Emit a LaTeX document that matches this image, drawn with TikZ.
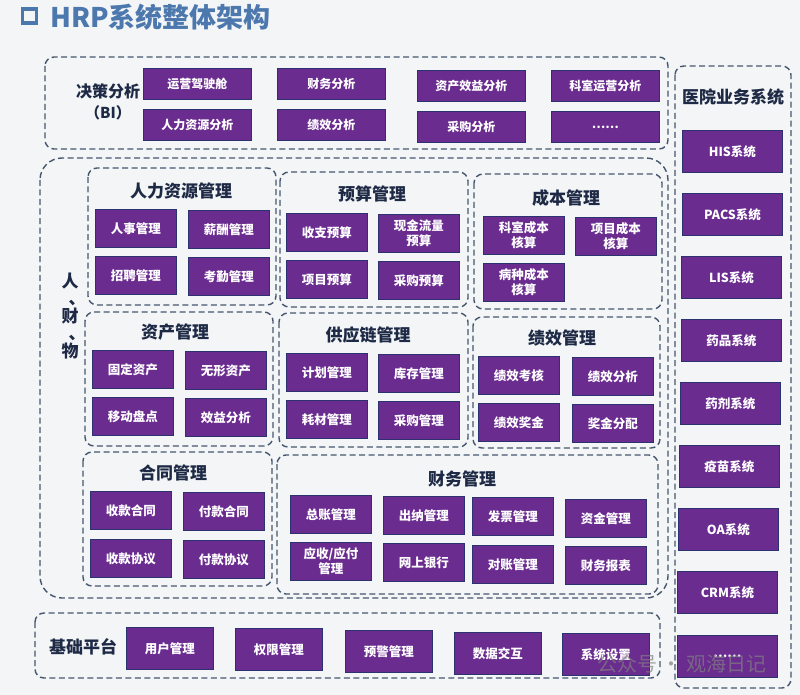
\documentclass[tikz,border=0pt]{standalone}
\usepackage{fontspec}
\setmainfont{Noto Sans CJK SC}
\definecolor{bgc}{HTML}{F3F5F7}
\definecolor{purp}{HTML}{6B2C90}
\definecolor{bxborder}{HTML}{2C3270}
\definecolor{dashc}{HTML}{46566E}
\definecolor{lblc}{HTML}{1E2A45}
\definecolor{titleblue}{HTML}{4C78AE}
\begin{document}
\begin{tikzpicture}[x=1pt,y=-1pt,
  grp/.style={draw=dashc, line width=1.4pt, dash pattern=on 6pt off 3.5pt, rounded corners=9pt},
  bx/.style={draw=bxborder, line width=0.9pt, fill=purp, text=white, font=\fontsize{12.5}{15}\selectfont\bfseries, align=center, anchor=north west, inner sep=0pt},
  mb/.style={bx, minimum width=81pt, minimum height=38pt},
  bib/.style={bx, minimum width=108pt, minimum height=31pt, font=\fontsize{12}{14}\selectfont\bfseries},
  rb/.style={bx, minimum width=100pt, minimum height=42pt},
  fb/.style={bx, minimum width=87pt, minimum height=42pt},
  gt/.style={text=lblc, font=\fontsize{17}{19}\selectfont\bfseries},
]
\useasboundingbox (0,0) rectangle (800,695);
\fill[bgc] (0,0) rectangle (800,695);

% title
\node[draw=titleblue, line width=3.5pt, minimum size=14pt, inner sep=0pt] (sq) at (29.5,16) {};
\node[anchor=west, text=titleblue, font=\fontsize{27}{30}\selectfont\bfseries, inner sep=0pt] (title) at (50,17) {HRP系统整体架构};

% BI
\draw[grp] (45,57) rectangle (668,149);
\node[gt, font=\fontsize{16}{18}\selectfont\bfseries] (bi1) at (108,91) {决策分析};
\node[gt, font=\fontsize{15}{18}\selectfont\bfseries] (bi2) at (108,113) {（BI）};
\node[bib] (a1) at (143,68) {运营驾驶舱};
\node[bib] (a2) at (277,68) {财务分析};
\node[bib] (a3) at (417,70) {资产效益分析};
\node[bib] (a4) at (551,70) {科室运营分析};
\node[bib] (a5) at (143,109) {人力资源分析};
\node[bib] (a6) at (277,109) {绩效分析};
\node[bib] (a7) at (417,111) {采购分析};
\node[bib] (a8) at (551,111) {……};

% big middle box
\draw[grp, rounded corners=22pt] (40,158) rectangle (668,598);
\node[gt, align=center, font=\fontsize{17}{17.5}\selectfont\bfseries, inner sep=0pt] (rcw) at (70,316) {人\\\hspace*{14pt}、\\财\\\hspace*{14pt}、\\物};

% HR
\draw[grp] (88,168) rectangle (276,305);
\node[gt] (hrt) at (181,191) {人力资源管理};
\node[mb] (h1) at (95,209) {人事管理};
\node[mb] (h2) at (188,210) {薪酬管理};
\node[mb] (h3) at (95,256) {招聘管理};
\node[mb] (h4) at (188,257) {考勤管理};

% budget
\draw[grp] (280,172) rectangle (468,307);
\node[gt] (bgt) at (372,194) {预算管理};
\node[mb] (g1) at (286,213) {收支预算};
\node[mb] (g2) at (378,214) {现金流量\\预算};
\node[mb] (g3) at (286,260) {项目预算};
\node[mb] (g4) at (378,261) {采购预算};

% cost
\draw[grp] (474,174) rectangle (662,309);
\node[gt] (cst) at (566,198) {成本管理};
\node[mb] (c1) at (483,216) {科室成本\\核算};
\node[mb] (c2) at (575,217) {项目成本\\核算};
\node[mb] (c3) at (483,263) {病种成本\\核算};

% assets
\draw[grp] (85,312) rectangle (273,446);
\node[gt] (ast) at (175,332) {资产管理};
\node[mb] (s1) at (92,350) {固定资产};
\node[mb] (s2) at (185,351) {无形资产};
\node[mb] (s3) at (92,397) {移动盘点};
\node[mb] (s4) at (185,398) {效益分析};

% supply chain
\draw[grp] (279,313) rectangle (468,447);
\node[gt] (spt) at (368,335) {供应链管理};
\node[mb] (p1) at (286,353) {计划管理};
\node[mb] (p2) at (378,354) {库存管理};
\node[mb] (p3) at (286,400) {耗材管理};
\node[mb] (p4) at (378,401) {采购管理};

% performance
\draw[grp] (473,317) rectangle (660,448);
\node[gt] (pft) at (562,338) {绩效管理};
\node[mb] (q1) at (478,356) {绩效考核};
\node[mb] (q2) at (572,357) {绩效分析};
\node[mb] (q3) at (478,403) {绩效奖金};
\node[mb] (q4) at (572,404) {奖金分配};

% contract
\draw[grp] (83,452) rectangle (272,586);
\node[gt] (ctt) at (173,473) {合同管理};
\node[mb] (k1) at (90,491) {收款合同};
\node[mb] (k2) at (183,492) {付款合同};
\node[mb] (k3) at (90,539) {收款协议};
\node[mb] (k4) at (183,540) {付款协议};

% finance
\draw[grp] (277,455) rectangle (658,594);
\node[gt] (fnt) at (462,479) {财务管理};
\node[mb] (f1) at (290,495) {总账管理};
\node[mb] (f2) at (383,496) {出纳管理};
\node[mb] (f3) at (472,497) {发票管理};
\node[mb] (f4) at (565,499) {资金管理};
\node[mb] (f5) at (290,542) {应收/应付\\管理};
\node[mb] (f6) at (383,543) {网上银行};
\node[mb] (f7) at (472,545) {对账管理};
\node[mb] (f8) at (565,546) {财务报表};

% hospital systems
\draw[grp] (675,66) rectangle (791,688);
\node[gt] (hst) at (733,97) {医院业务系统};
\node[rb] (r1) at (682,130) {HIS系统};
\node[rb] (r2) at (682,193) {PACS系统};
\node[rb] (r3) at (681,256) {LIS系统};
\node[rb] (r4) at (681,319) {药品系统};
\node[rb] (r5) at (680,382) {药剂系统};
\node[rb] (r6) at (679,445) {疫苗系统};
\node[rb] (r7) at (678,508) {OA系统};
\node[rb] (r8) at (677,571) {CRM系统};
\node[rb] (r9) at (677,635) {……};

% base platform
\draw[grp] (35,613) rectangle (660,678);
\node[gt] (bpt) at (83,647) {基础平台};
\node[fb] (u1) at (126,627) {用户管理};
\node[fb] (u2) at (235,628) {权限管理};
\node[fb] (u3) at (345,630) {预警管理};
\node[fb] (u4) at (454,632) {数据交互};
\node[fb] (u5) at (562,633) {系统设置};

% watermark
\node[text=gray, opacity=0.7, font=\fontsize{20}{22}\selectfont] (wm) at (682,664) {公众号 · 观海日记};
\end{tikzpicture}
\end{document}
